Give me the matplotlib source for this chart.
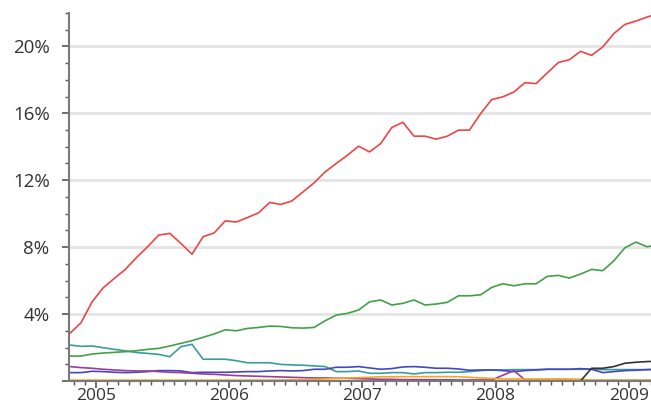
import numpy as np
import matplotlib
matplotlib.use('Agg')
import matplotlib.pyplot as plt
from matplotlib.ticker import MultipleLocator, FuncFormatter

# Cuota mensual (%) -- primer punto a mediados de oct. 2004
inicio = -2.35  # meses respecto a enero 2005

rojo = [2.85, 3.48, 4.73, 5.57, 6.13, 6.67, 7.38, 8.02, 8.72, 8.82, 8.22, 7.58,
        8.62, 8.85, 9.57, 9.50, 9.77, 10.05, 10.67, 10.55, 10.76, 11.30, 11.84, 12.50,
        13.00, 13.49, 14.03, 13.69, 14.19, 15.15, 15.46, 14.63, 14.63, 14.45, 14.63, 14.99,
        14.99, 15.98, 16.82, 16.98, 17.27, 17.83, 17.77, 18.41, 19.03, 19.20, 19.70, 19.46,
        19.96, 20.76, 21.31, 21.51, 21.75, 21.95]
verde = [1.49, 1.49, 1.61, 1.67, 1.71, 1.75, 1.81, 1.89, 1.95, 2.09, 2.25, 2.41,
         2.61, 2.81, 3.06, 3.00, 3.14, 3.20, 3.28, 3.26, 3.18, 3.16, 3.20, 3.60,
         3.94, 4.04, 4.24, 4.73, 4.84, 4.54, 4.64, 4.84, 4.54, 4.60, 4.70, 5.09,
         5.09, 5.15, 5.59, 5.81, 5.69, 5.81, 5.81, 6.25, 6.31, 6.15, 6.39, 6.67,
         6.59, 7.18, 7.96, 8.30, 8.02, 8.15]
turquesa = [2.15, 2.07, 2.09, 1.99, 1.89, 1.80, 1.70, 1.65, 1.59, 1.45, 2.05, 2.19,
            1.30, 1.30, 1.30, 1.21, 1.09, 1.09, 1.09, 0.99, 0.96, 0.94, 0.90, 0.86,
            0.56, 0.56, 0.60, 0.46, 0.46, 0.50, 0.50, 0.42, 0.50, 0.50, 0.52, 0.52,
            0.56, 0.62, 0.66, 0.66, 0.68, 0.68, 0.68, 0.70, 0.70, 0.70, 0.70, 0.70,
            0.68, 0.68, 0.68, 0.68, 0.68, 0.68]
azul = [0.50, 0.50, 0.58, 0.56, 0.52, 0.50, 0.52, 0.56, 0.62, 0.62, 0.60, 0.50,
        0.52, 0.52, 0.52, 0.54, 0.56, 0.56, 0.60, 0.62, 0.60, 0.62, 0.70, 0.70,
        0.82, 0.82, 0.86, 0.78, 0.70, 0.74, 0.84, 0.86, 0.82, 0.76, 0.76, 0.72,
        0.64, 0.66, 0.66, 0.62, 0.56, 0.62, 0.66, 0.70, 0.70, 0.70, 0.74, 0.70,
        0.50, 0.56, 0.62, 0.64, 0.68, 0.70]
morado = [0.86, 0.80, 0.76, 0.70, 0.66, 0.62, 0.60, 0.60, 0.56, 0.52, 0.50, 0.46,
          0.42, 0.40, 0.36, 0.32, 0.30, 0.28, 0.26, 0.24, 0.22, 0.20, 0.18, 0.18,
          0.16, 0.16, 0.14, 0.12, 0.10, 0.10, 0.08, 0.08, 0.08, 0.07, 0.07, 0.06,
          0.06, 0.06, 0.06, 0.34, 0.62, 0.06, 0.05, 0.05, 0.05, 0.04, 0.04, 0.03,
          0.03, 0.03, 0.03, 0.03, 0.03, 0.03]
naranja = [0.05, 0.05, 0.05, 0.05, 0.05, 0.05, 0.05, 0.05, 0.05, 0.05, 0.05, 0.05,
           0.05, 0.05, 0.05, 0.05, 0.05, 0.05, 0.05, 0.06, 0.07, 0.08, 0.10, 0.12,
           0.15, 0.18, 0.20, 0.22, 0.25, 0.25, 0.26, 0.26, 0.26, 0.26, 0.26, 0.25,
           0.22, 0.18, 0.15, 0.12, 0.12, 0.12, 0.12, 0.12, 0.12, 0.12, 0.10, 0.05,
           0.05, 0.05, 0.05, 0.05, 0.05, 0.05]
negro = [np.nan] * 46 + [0.00, 0.76, 0.76, 0.86, 1.06, 1.12, 1.16, 1.18]

anios = ['2005', '2006', '2007', '2008', '2009']

meses = inicio + np.arange(len(rojo))

series = [
    (turquesa, '#3a9c9c'),
    (verde, '#43a047'),
    (rojo, '#f04444'),
    (azul, '#4646bf'),
    (morado, '#9c3c9c'),
    (naranja, '#f5a623'),
    (negro, '#333333'),
]

plt.rcParams['font.family'] = ['Open Sans', 'DejaVu Sans']

fig = plt.figure(figsize=(6.51, 4.05), dpi=100)
ax = fig.add_axes([0.106, 0.0593, 0.894, 0.909])

for valores, color in series:
    ax.plot(meses, valores, color=color, linewidth=1.2)

ax.set_xlim(-2.43, 50.0)
ax.set_ylim(0, 22)

ax.yaxis.set_major_locator(MultipleLocator(4))
ax.yaxis.set_minor_locator(MultipleLocator(1))
ax.yaxis.set_major_formatter(FuncFormatter(lambda v, p: '' if v == 0 else f'{v:.0f}%'))
ax.set_xticks(np.arange(len(anios)) * 12)
ax.set_xticklabels(anios)
ax.xaxis.set_minor_locator(MultipleLocator(1))

ax.grid(axis='y', which='major', color='#e4e4e4', linewidth=2)
ax.set_axisbelow(True)

for lado in ['top', 'right']:
    ax.spines[lado].set_visible(False)
for lado in ['left', 'bottom']:
    ax.spines[lado].set_color('#7a7a7a')
    ax.spines[lado].set_linewidth(1.5)

ax.tick_params(which='major', length=5, width=1.2, color='#555555',
               labelsize=13.5, labelcolor='#333333')
ax.tick_params(which='minor', length=3, width=1.0, color='#555555')
ax.tick_params(axis='y', pad=9)
ax.tick_params(axis='x', labelsize=12.5, pad=0)

plt.savefig('out.png', dpi=100)
